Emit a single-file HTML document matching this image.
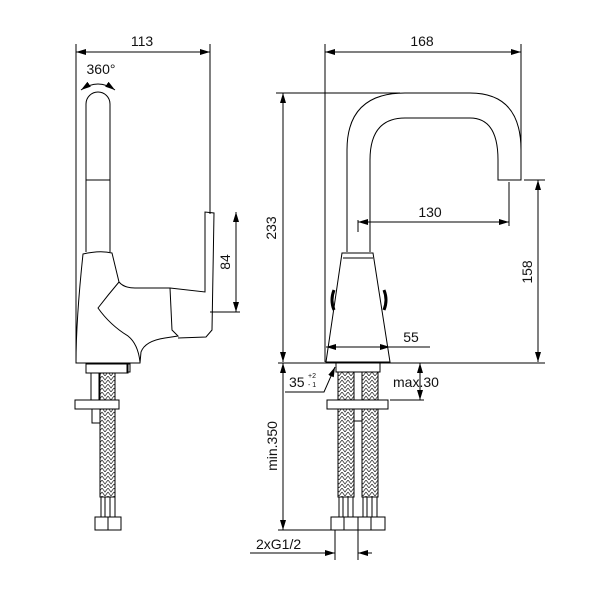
<!DOCTYPE html>
<html><head><meta charset="utf-8"><style>body{margin:0;background:#fff}svg{display:block}text{font-family:"Liberation Sans",sans-serif;font-size:14px;fill:#111}</style></head><body>
<svg width="600" height="600" viewBox="0 0 600 600" xmlns="http://www.w3.org/2000/svg">
<defs>
<marker id="a" viewBox="0 0 10 6" refX="10" refY="3" markerWidth="10" markerHeight="6" orient="auto-start-reverse" markerUnits="userSpaceOnUse"><path d="M0,0L10,3L0,6z" fill="#000"/></marker>
<pattern id="br" width="6" height="8" patternUnits="userSpaceOnUse"><path d="M0,0L3,4L6,0M0,4L3,8L6,4" stroke="#333" fill="none" stroke-width="0.8"/></pattern>
</defs>
<g stroke="#000" stroke-width="1" fill="none">
<!-- LEFT VIEW -->
<line x1="76" y1="44" x2="76" y2="362"/>
<line x1="210" y1="44" x2="210" y2="214"/>
<line x1="76" y1="52" x2="210" y2="52" marker-start="url(#a)" marker-end="url(#a)"/>
<path d="M81,90 Q98,78 115,90" marker-start="url(#a)" marker-end="url(#a)"/>
<path d="M86,252 V104 A12,12 0 0 1 110,104 V252"/>
<line x1="86" y1="180" x2="110" y2="180"/>
<path d="M83,254 Q100,250 112,253 L119,282 Q124,288 135,288 L170,288 L172,330 L178,336 L165,338 Q145,341 141,352 L140,363 L76,363 Q76,320 83,254 Z"/>
<path d="M119,282 Q108,295 98,308 Q110,325 128,336 Q138,344 140,362"/>
<path d="M170,288 L205,292 V212 L214,213 L212,330 L206,337 L178,338"/>
<line x1="210" y1="312" x2="240" y2="312"/>
<line x1="236" y1="212" x2="236" y2="312" marker-start="url(#a)" marker-end="url(#a)"/>
<rect x="86" y="364" width="42" height="9"/>
<rect x="127" y="364" width="3" height="8"/>
<rect x="91" y="373" width="8" height="27"/>
<rect x="100" y="373" width="15" height="124" fill="url(#br)"/>
<rect x="75" y="400" width="44" height="9" fill="#fff"/>
<rect x="92" y="409" width="8" height="14"/>
<rect x="101" y="497" width="14" height="20"/>
<line x1="105" y1="497" x2="105" y2="517"/><line x1="110" y1="497" x2="110" y2="517"/>
<rect x="95" y="517" width="26" height="13"/><line x1="108" y1="517" x2="108" y2="530"/>
<!-- RIGHT VIEW -->
<line x1="325" y1="44" x2="325" y2="362"/>
<line x1="521" y1="44" x2="521" y2="150"/>
<line x1="325" y1="52" x2="521" y2="52" marker-start="url(#a)" marker-end="url(#a)"/>
<line x1="276" y1="93" x2="400" y2="93"/>
<line x1="283" y1="93" x2="283" y2="362" marker-start="url(#a)" marker-end="url(#a)"/>
<path d="M347,252 V150 Q347,93 405,93 H470 Q521,93 521,150 V180 H498 V160 Q498,118 470,118 H405 Q370,118 370,160 V252"/>
<line x1="524" y1="180" x2="545" y2="180"/>
<line x1="538" y1="180" x2="538" y2="362" marker-start="url(#a)" marker-end="url(#a)"/>
<line x1="509" y1="182" x2="509" y2="226"/>
<line x1="358" y1="222" x2="509" y2="222" marker-start="url(#a)" marker-end="url(#a)"/>
<line x1="358" y1="220" x2="358" y2="232"/>
<path d="M342,253 H373 L390,362 H326 Z"/>
<line x1="343" y1="258" x2="373" y2="258"/>
<path d="M334,290 Q330,300 334,310" stroke-width="3"/>
<path d="M384,290 Q388,300 384,310" stroke-width="3"/>
<line x1="326" y1="347" x2="390" y2="347" marker-start="url(#a)" marker-end="url(#a)"/>
<line x1="390" y1="347" x2="430" y2="347"/>
<line x1="278" y1="363" x2="545" y2="363"/>
<rect x="336" y="363" width="44" height="9"/>
<rect x="338" y="372" width="16" height="125" fill="url(#br)"/>
<rect x="362" y="372" width="16" height="125" fill="url(#br)"/>
<rect x="327" y="400" width="61" height="9" fill="#fff"/>
<rect x="354" y="409" width="8" height="12"/>
<rect x="339" y="497" width="14" height="20"/><rect x="363" y="497" width="14" height="20"/>
<line x1="343" y1="497" x2="343" y2="517"/><line x1="348" y1="497" x2="348" y2="517"/>
<line x1="367" y1="497" x2="367" y2="517"/><line x1="372" y1="497" x2="372" y2="517"/>
<rect x="331" y="517" width="27" height="13"/><rect x="358" y="517" width="27" height="13"/>
<line x1="344" y1="517" x2="344" y2="530"/><line x1="371" y1="517" x2="371" y2="530"/>
<line x1="390" y1="400" x2="424" y2="400"/>
<line x1="420" y1="363" x2="420" y2="400" marker-start="url(#a)" marker-end="url(#a)"/>
<path d="M285,392 H324 L335,367" marker-end="url(#a)"/>
<line x1="283" y1="363" x2="283" y2="530" marker-start="url(#a)" marker-end="url(#a)"/>
<line x1="278" y1="530" x2="340" y2="530"/>
<line x1="335" y1="530" x2="335" y2="560"/><line x1="358" y1="530" x2="358" y2="560"/>
<line x1="250" y1="553" x2="335" y2="553" marker-end="url(#a)"/>
<line x1="372" y1="553" x2="358" y2="553" marker-end="url(#a)"/>
</g>
<text x="142" y="46" text-anchor="middle">113</text>
<text x="101" y="74" text-anchor="middle">360°</text>
<text transform="translate(230,262) rotate(-90)" text-anchor="middle">84</text>
<text x="422" y="46" text-anchor="middle">168</text>
<text transform="translate(276,228) rotate(-90)" text-anchor="middle">233</text>
<text x="430" y="217" text-anchor="middle">130</text>
<text transform="translate(532,272) rotate(-90)" text-anchor="middle">158</text>
<text x="411" y="342" text-anchor="middle">55</text>
<text x="393" y="387">max.30</text>
<text x="289" y="387">35</text>
<text x="308" y="378" style="font-size:7px">+2</text>
<text x="308" y="387" style="font-size:7px">- 1</text>
<text transform="translate(277,446) rotate(-90)" text-anchor="middle">min.350</text>
<text x="256" y="549">2xG1/2</text>
</svg>
</body></html>
